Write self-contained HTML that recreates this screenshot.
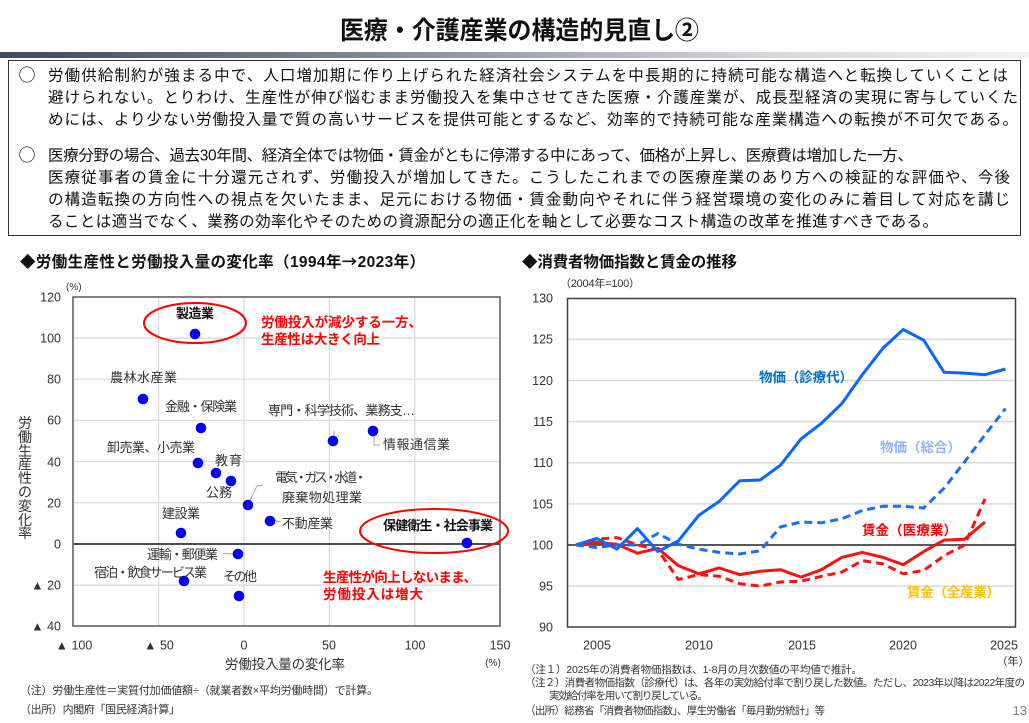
<!DOCTYPE html>
<html lang="ja">
<head>
<meta charset="utf-8">
<style>
  html,body{margin:0;padding:0;background:#fff;}
  body{width:1029px;height:723px;overflow:hidden;position:relative;}
  svg{position:absolute;left:0;top:0;}
  text{font-family:"Liberation Sans","Noto Sans CJK JP",sans-serif;}
</style>
</head>
<body>
<svg width="1029" height="723" viewBox="0 0 1029 723" xmlns="http://www.w3.org/2000/svg">
  <defs>
    <linearGradient id="hb" x1="0" y1="0" x2="1" y2="0">
      <stop offset="0" stop-color="#3d4862"/>
      <stop offset="0.35" stop-color="#7d8699"/>
      <stop offset="0.75" stop-color="#d6d8dd"/>
      <stop offset="1" stop-color="#f2f2f2"/>
    </linearGradient>
  </defs>

  <!-- Title -->
  <text x="519.5" y="39" font-size="25" font-weight="bold" fill="#111" text-anchor="middle" textLength="359" lengthAdjust="spacingAndGlyphs">医療・介護産業の構造的見直し②</text>
  <rect x="0" y="52" width="1029" height="6" fill="url(#hb)"/>

  <!-- Text box -->
  <rect x="8.5" y="60.5" width="1012" height="175" fill="#fff" stroke="#333" stroke-width="1"/>
  <g font-size="15.5" fill="#111">
    <text x="27" y="81" text-anchor="middle" font-size="17" style="font-family:'Noto Sans CJK JP',sans-serif">○</text>
    <text x="48" y="80.7" textLength="960">労働供給制約が強まる中で、人口増加期に作り上げられた経済社会システムを中長期的に持続可能な構造へと転換していくことは</text>
    <text x="48" y="102.7" textLength="970">避けられない。とりわけ、生産性が伸び悩むまま労働投入を集中させてきた医療・介護産業が、成長型経済の実現に寄与していくた</text>
    <text x="48" y="124.7" textLength="970">めには、より少ない労働投入量で質の高いサービスを提供可能とするなど、効率的で持続可能な産業構造への転換が不可欠である。</text>
    <text x="27" y="161" text-anchor="middle" font-size="17" style="font-family:'Noto Sans CJK JP',sans-serif">○</text>
    <text x="48" y="160.7" textLength="865">医療分野の場合、過去30年間、経済全体では物価・賃金がともに停滞する中にあって、価格が上昇し、医療費は増加した一方、</text>
    <text x="48" y="182.7" textLength="962">医療従事者の賃金に十分還元されず、労働投入が増加してきた。こうしたこれまでの医療産業のあり方への検証的な評価や、今後</text>
    <text x="48" y="204.7" textLength="962">の構造転換の方向性への視点を欠いたまま、足元における物価・賃金動向やそれに伴う経営環境の変化のみに着目して対応を講じ</text>
    <text x="48" y="226.7" textLength="890">ることは適当でなく、業務の効率化やそのための資源配分の適正化を軸として必要なコスト構造の改革を推進すべきである。</text>
  </g>

  <!-- ============ LEFT CHART ============ -->
  <text x="20" y="267" font-size="15.5" font-weight="bold" fill="#111" textLength="405">◆労働生産性と労働投入量の変化率（1994年<tspan style="font-family:'Noto Sans CJK JP',sans-serif">→</tspan>2023年）</text>

  <!-- gridlines -->
  <g stroke="#d9d9d9" stroke-width="1.2">
    <line x1="73" y1="338.1" x2="500" y2="338.1"/>
    <line x1="73" y1="379.2" x2="500" y2="379.2"/>
    <line x1="73" y1="420.3" x2="500" y2="420.3"/>
    <line x1="73" y1="461.5" x2="500" y2="461.5"/>
    <line x1="73" y1="502.6" x2="500" y2="502.6"/>
    <line x1="73" y1="585.1" x2="500" y2="585.1"/>
    <line x1="158.6" y1="297" x2="158.6" y2="626"/>
    <line x1="244" y1="297" x2="244" y2="626"/>
    <line x1="329.4" y1="297" x2="329.4" y2="626"/>
    <line x1="414.8" y1="297" x2="414.8" y2="626"/>
  </g>
  <line x1="73" y1="544" x2="500" y2="544" stroke="#111" stroke-width="1.5"/>
  <rect x="73" y="297" width="427" height="329" fill="none" stroke="#595959" stroke-width="1.5"/>

  <!-- y tick labels -->
  <g font-size="12.5" fill="#333" text-anchor="end">
    <text x="61" y="301.5">120</text>
    <text x="61" y="342.5">100</text>
    <text x="61" y="383.5">80</text>
    <text x="61" y="424.5">60</text>
    <text x="61" y="466.5">40</text>
    <text x="61" y="507.5">20</text>
    <text x="61" y="548.5">0</text>
    <text x="61" y="589.5">▲ 20</text>
    <text x="61" y="630.5">▲ 40</text>
  </g>
  <text x="66" y="290" font-size="10" fill="#333">(%)</text>
  <!-- x tick labels -->
  <g font-size="12.5" fill="#333" text-anchor="middle">
    <text x="74" y="649.5">▲ 100</text>
    <text x="159" y="649.5">▲ 50</text>
    <text x="244" y="649.5">0</text>
    <text x="329" y="649.5">50</text>
    <text x="415" y="649.5">100</text>
    <text x="500" y="649.5">150</text>
  </g>
  <text x="493" y="666" font-size="10" fill="#333" text-anchor="middle">(%)</text>
  <text x="225" y="669" font-size="13.5" fill="#333" textLength="120">労働投入量の変化率</text>
  <!-- y axis title vertical -->
  <g font-size="14" fill="#333" text-anchor="middle">
    <text x="25" y="428">労</text>
    <text x="25" y="442">働</text>
    <text x="25" y="456">生</text>
    <text x="25" y="469">産</text>
    <text x="25" y="483">性</text>
    <text x="25" y="497">の</text>
    <text x="25" y="511">変</text>
    <text x="25" y="525">化</text>
    <text x="25" y="538">率</text>
  </g>

  <!-- leader lines -->
  <g stroke="#a6a6a6" stroke-width="1" fill="none">
    <polyline points="334,431 334,437"/>
    <polyline points="374,435 374,445 380,445"/>
    <polyline points="249,502 257,486 263,485"/>
    <polyline points="274,520 280,522"/>
    <polyline points="223,553.5 234,554"/>
  </g>

  <!-- points -->
  <g fill="#0000ff">
    <circle cx="195" cy="334" r="5.3"/>
    <circle cx="143" cy="399" r="5.3"/>
    <circle cx="201" cy="428" r="5.3"/>
    <circle cx="373" cy="431" r="5.3"/>
    <circle cx="333" cy="441" r="5.3"/>
    <circle cx="198" cy="463" r="5.3"/>
    <circle cx="216" cy="473" r="5.3"/>
    <circle cx="231" cy="481" r="5.3"/>
    <circle cx="248" cy="505" r="5.3"/>
    <circle cx="270" cy="521" r="5.3"/>
    <circle cx="181" cy="533" r="5.3"/>
    <circle cx="467" cy="543" r="5.3"/>
    <circle cx="238" cy="554" r="5.3"/>
    <circle cx="184" cy="581" r="5.3"/>
    <circle cx="239" cy="596" r="5.3"/>
  </g>

  <!-- point labels -->
  <g font-size="13" fill="#333">
    <text x="110" y="382" textLength="67">農林水産業</text>
    <text x="165" y="411" textLength="72">金融・保険業</text>
    <text x="268" y="415" textLength="147">専門・科学技術、業務支…</text>
    <text x="383" y="449" textLength="67">情報通信業</text>
    <text x="107" y="452" textLength="88">卸売業、小売業</text>
    <text x="215" y="465" textLength="27">教育</text>
    <text x="275" y="482" textLength="92">電気・ガス・水道・</text>
    <text x="282" y="502" textLength="80">廃棄物処理業</text>
    <text x="206" y="497" textLength="26">公務</text>
    <text x="162" y="518" textLength="38">建設業</text>
    <text x="282" y="528" textLength="51">不動産業</text>
    <text x="147" y="559" textLength="71">運輸・郵便業</text>
    <text x="94" y="577" textLength="113">宿泊・飲食サービス業</text>
    <text x="223" y="581" textLength="34">その他</text>
  </g>
  <text x="176" y="318" font-size="13" font-weight="bold" fill="#111" textLength="38">製造業</text>
  <text x="383" y="530" font-size="13" font-weight="bold" fill="#111" textLength="110">保健衛生・社会事業</text>

  <!-- red ellipses -->
  <ellipse cx="195" cy="323" rx="51" ry="20" fill="none" stroke="#ff0000" stroke-width="2"/>
  <ellipse cx="434" cy="531" rx="74" ry="22" fill="none" stroke="#ff0000" stroke-width="2"/>

  <!-- red annotations -->
  <g font-size="13.5" font-weight="bold" fill="#ff0000">
    <text x="261" y="327" textLength="161">労働投入が減少する一方、</text>
    <text x="261" y="344" textLength="119">生産性は大きく向上</text>
    <text x="323" y="582" textLength="154">生産性が向上しないまま、</text>
    <text x="323" y="599" textLength="100">労働投入は増大</text>
  </g>

  <!-- left footnotes -->
  <g font-size="11" fill="#333">
    <text x="20" y="694" textLength="358">（注）労働生産性＝実質付加価値額÷（就業者数×平均労働時間）で計算。</text>
    <text x="20" y="713" textLength="160">（出所）内閣府「国民経済計算」</text>
  </g>

  <!-- ============ RIGHT CHART ============ -->
  <text x="522" y="267" font-size="15.5" font-weight="bold" fill="#111" textLength="215">◆消費者物価指数と賃金の推移</text>
  <text x="560" y="287" font-size="11" fill="#333" textLength="80">（2004年=100）</text>

  <g stroke="#d9d9d9" stroke-width="1.5">
    <line x1="567.5" y1="339.4" x2="1015.5" y2="339.4"/>
    <line x1="567.5" y1="380.5" x2="1015.5" y2="380.5"/>
    <line x1="567.5" y1="421.6" x2="1015.5" y2="421.6"/>
    <line x1="567.5" y1="462.8" x2="1015.5" y2="462.8"/>
    <line x1="567.5" y1="503.9" x2="1015.5" y2="503.9"/>
    <line x1="567.5" y1="586.1" x2="1015.5" y2="586.1"/>
  </g>
  <line x1="567.5" y1="545" x2="1015.5" y2="545" stroke="#595959" stroke-width="2"/>
  <rect x="567.5" y="298.5" width="448" height="328.5" fill="none" stroke="#404040" stroke-width="1.5"/>

  <g font-size="12.5" fill="#333" text-anchor="end">
    <text x="553" y="302.5">130</text>
    <text x="553" y="343.5">125</text>
    <text x="553" y="385">120</text>
    <text x="553" y="426">115</text>
    <text x="553" y="467">110</text>
    <text x="553" y="508.5">105</text>
    <text x="553" y="549.5">100</text>
    <text x="553" y="590.5">95</text>
    <text x="553" y="631.5">90</text>
  </g>
  <g font-size="12.5" fill="#333" text-anchor="middle">
    <text x="597" y="649.5">2005</text>
    <text x="699" y="649.5">2010</text>
    <text x="802" y="649.5">2015</text>
    <text x="903" y="649.5">2020</text>
    <text x="1004" y="649.5">2025</text>
  </g>
  <text x="1013" y="665" font-size="11" fill="#333" text-anchor="middle">（年）</text>

  <!-- series -->
  <g fill="none" stroke-width="3" stroke-linejoin="round">
    <polyline stroke="#ff1010" stroke-dasharray="8 5" points="576,545 596.5,539.2 616.9,537.6 637.4,545 657.8,549.9 678.3,579.5 698.7,574.6 719.2,576.3 739.6,583.7 760.1,586.1 780.5,582 801,581.2 821.4,576.3 841.9,572.1 862.3,560.6 882.8,563.9 903.2,573.8 923.7,570.5 944.1,555.7 964.6,545 985,498.9"/>
    <polyline stroke="#ff1010" points="576,545 596.5,542.5 616.9,544.2 637.4,553.2 657.8,548.3 678.3,565.6 698.7,573.8 719.2,568 739.6,574.6 760.1,571.3 780.5,569.7 801,577.1 821.4,569.7 841.9,557.3 862.3,552.4 882.8,557.3 903.2,564.7 923.7,551.6 944.1,540.1 964.6,539.2 985,522"/>
    <polyline stroke="#1a6ff5" stroke-dasharray="8 5" points="576,545 596.5,547.5 616.9,545 637.4,545 657.8,533.5 678.3,544.2 698.7,549.1 719.2,552.4 739.6,554 760.1,550.8 780.5,526.9 801,522 821.4,522.8 841.9,518.7 862.3,510.5 882.8,506.3 903.2,506.3 923.7,508 944.1,488.2 964.6,461.9 985,434.8 1005.5,408.5"/>
    <polyline stroke="#0a66ff" points="576,545 596.5,538.4 616.9,549.1 637.4,528.6 657.8,551.6 678.3,540.9 698.7,515.4 719.2,501.4 739.6,480.8 760.1,480 780.5,465.2 801,438.9 821.4,423.3 841.9,403.5 862.3,374.7 882.8,348.4 903.2,329.5 923.7,340.2 944.1,372.3 964.6,373.1 985,374.7 1005.5,369"/>
  </g>

  <g font-size="13.5" font-weight="bold">
    <text x="759" y="382" fill="#0070c0" textLength="94">物価（診療代）</text>
    <text x="880" y="452" fill="#8fb4f0" textLength="81">物価（総合）</text>
    <text x="862" y="535" fill="#ff0000" textLength="95">賃金（医療業）</text>
    <text x="907" y="597" fill="#ffc000" textLength="93">賃金（全産業）</text>
  </g>

  <!-- right footnotes -->
  <g font-size="10.5" fill="#333">
    <text x="525" y="673" textLength="337">（注１）2025年の消費者物価指数は、1‐8月の月次数値の平均値で推計。</text>
    <text x="525" y="686" textLength="500">（注２）消費者物価指数（診療代）は、各年の実効給付率で割り戻した数値。ただし、2023年以降は2022年度の</text>
    <text x="549" y="699" textLength="159">実効給付率を用いて割り戻している。</text>
    <text x="525" y="714" textLength="300">（出所）総務省「消費者物価指数」、厚生労働省「毎月勤労統計」等</text>
  </g>
  <text x="1027" y="715" font-size="13" fill="#7f7f7f" text-anchor="end">13</text>
</svg>
</body>
</html>
